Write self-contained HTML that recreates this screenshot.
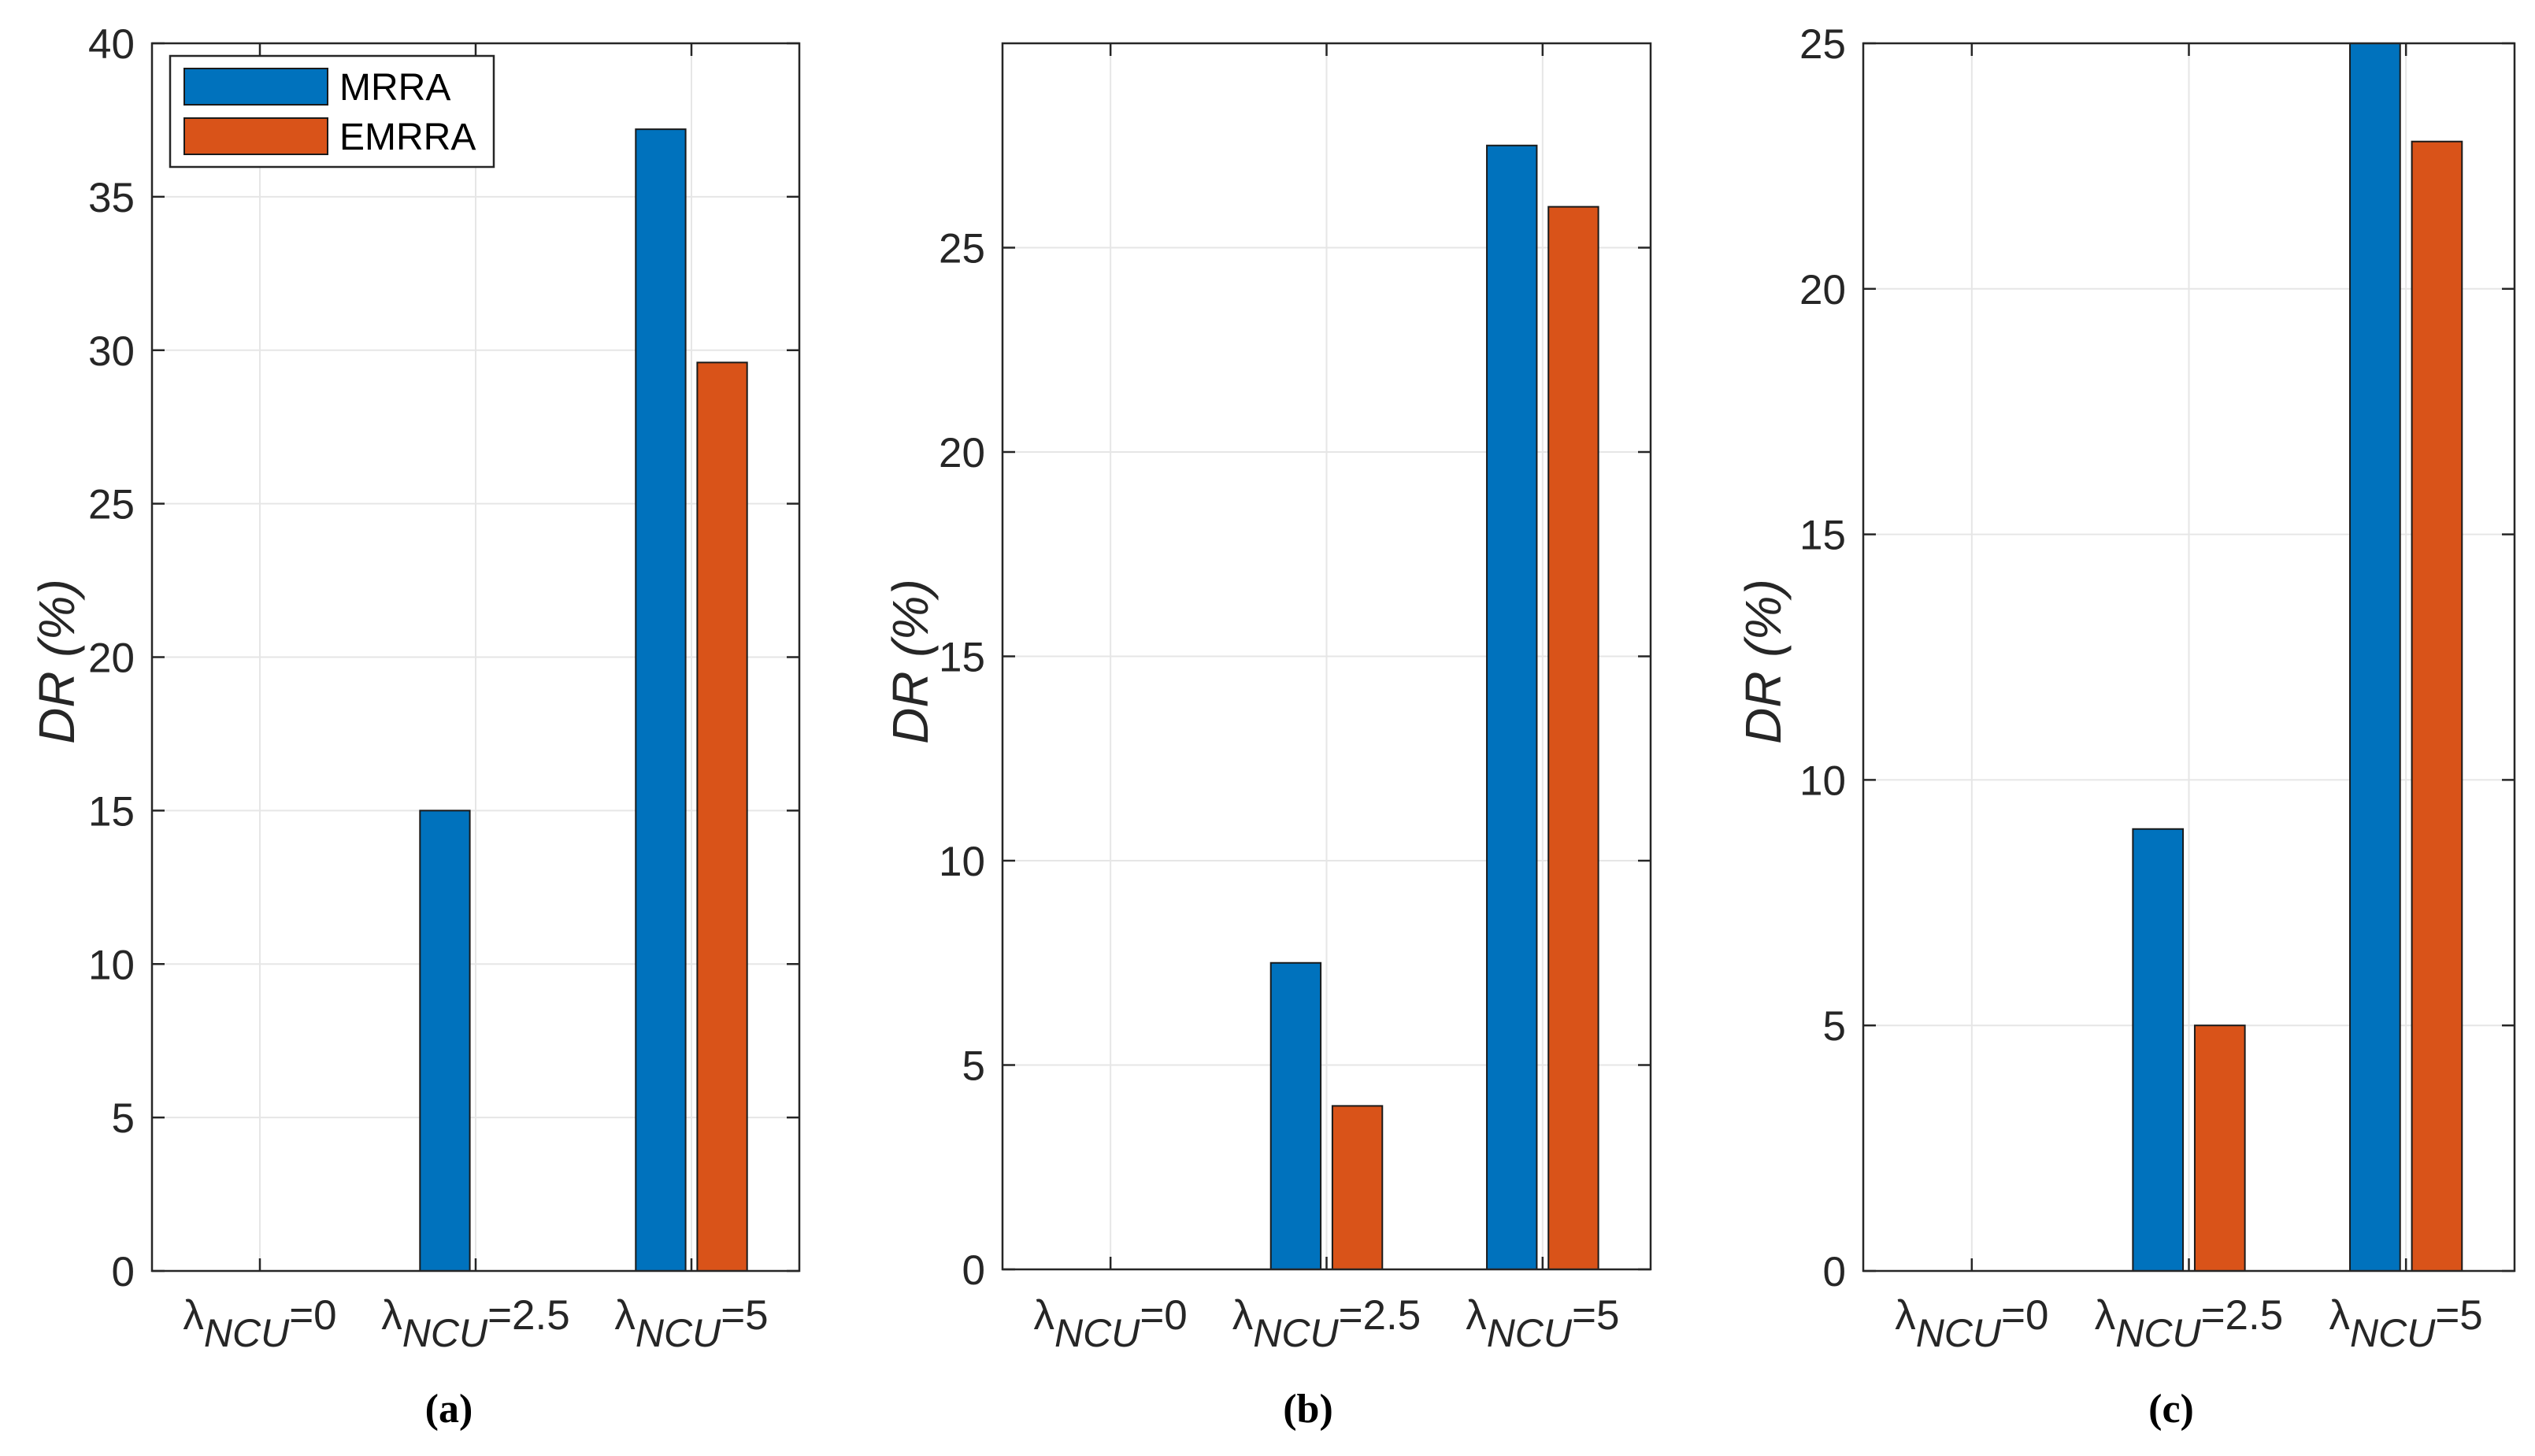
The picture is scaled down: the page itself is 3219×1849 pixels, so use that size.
<!DOCTYPE html>
<html><head><meta charset="utf-8"><style>
html,body{margin:0;padding:0;background:#fff;}
svg{display:block;}
text{font-family:"Liberation Sans",sans-serif;fill:#262626;}
</style></head><body>
<svg id="fig" width="3219" height="1849" viewBox="0 0 3219 1849" xmlns="http://www.w3.org/2000/svg"></svg>
<script>
const categories = ["0", "2.5", "5"];
const seriesNames = ["MRRA", "EMRRA"];
const mrraA = [0, 15, 37.2];
const emrraA = [0, 0, 29.6];
const mrraB = [0, 7.5, 27.5];
const emrraB = [0, 4, 26];
const mrraC = [0, 9, 25];
const emrraC = [0, 5, 23];
const ticksA = [0, 5, 10, 15, 20, 25, 30, 35, 40];
const ticksB = [0, 5, 10, 15, 20, 25];
const ticksC = [0, 5, 10, 15, 20, 25];
const yMaxA = 40, yMaxB = 30, yMaxC = 25;
const captions = ["(a)", "(b)", "(c)"];

const NS = "http://www.w3.org/2000/svg";
const svg = document.getElementById("fig");
const colors = ["#0072BD", "#D95319"];
function mk(tag, attrs, parent) {
  const e = document.createElementNS(NS, tag);
  for (const k in attrs) e.setAttribute(k, attrs[k]);
  (parent || svg).appendChild(e);
  return e;
}
const panels = [
  {L:193, R:1015, T:55, B:1614, ymax:yMaxA, ticks:ticksA, s:[mrraA, emrraA], yl:72, cap:570, legend:true},
  {L:1273, R:2096, T:55, B:1612, ymax:yMaxB, ticks:ticksB, s:[mrraB, emrraB], yl:1156, cap:1661, legend:false},
  {L:2366, R:3193, T:55, B:1614, ymax:yMaxC, ticks:ticksC, s:[mrraC, emrraC], yl:2239, cap:2757, legend:false}
];
panels.forEach((p, pi) => {
  const g = mk("g", {});
  
  
  const W = p.R - p.L;
  const yS = v => p.B - (v / p.ymax) * (p.B - p.T);
  const xS = i => p.L + W * (i + 0.5) / categories.length;
  p.ticks.forEach(t => {
    const y = yS(t);
    const gl = mk("line", {x1:p.L, x2:p.R, y1:y, y2:y, stroke:"#e6e6e6", "stroke-width":2}, g);
    
    
  });
  categories.forEach((c, i) => {
    const x = xS(i);
    const gl = mk("line", {x1:x, x2:x, y1:p.T, y2:p.B, stroke:"#e6e6e6", "stroke-width":2}, g);
    
    
  });
  const bw = W * 0.077, gap = W * 0.018;
  p.s.forEach((ser, si) => {
    ser.forEach((v, i) => {
      const cx = xS(i);
      const x0 = si === 0 ? cx - gap / 2 - bw : cx + gap / 2;
      const y = yS(v);
      const r = mk("rect", {x:x0, y:y, width:bw, height:Math.max(p.B - y, 0.01), fill:colors[si], stroke:"#1a1a1a", "stroke-width":2}, g);
      
      
    });
  });
  const box = mk("rect", {x:p.L, y:p.T, width:W, height:p.B - p.T, fill:"none", stroke:"#262626", "stroke-width":2.5}, g);
  
  
  p.ticks.forEach(t => {
    const y = yS(t);
    mk("line", {x1:p.L, x2:p.L + 16, y1:y, y2:y, stroke:"#262626", "stroke-width":2.5}, g);
    mk("line", {x1:p.R - 16, x2:p.R, y1:y, y2:y, stroke:"#262626", "stroke-width":2.5}, g);
    const tl = mk("text", {x:p.L - 22, y:y + 19, "text-anchor":"end", "font-size":53}, g);
    tl.textContent = t;
    
    
  });
  categories.forEach((c, i) => {
    const x = xS(i);
    mk("line", {x1:x, x2:x, y1:p.B - 16, y2:p.B, stroke:"#262626", "stroke-width":2.5}, g);
    mk("line", {x1:x, x2:x, y1:p.T, y2:p.T + 16, stroke:"#262626", "stroke-width":2.5}, g);
    const xl = mk("text", {x:x, y:1688, "text-anchor":"middle", "font-size":53}, g);
    
    
    const l1 = mk("tspan", {}, xl); l1.textContent = "λ";
    const l2 = mk("tspan", {dy:22, "font-style":"italic", "font-size":50}, xl); l2.textContent = "NCU";
    const l3 = mk("tspan", {dy:-22}, xl); l3.textContent = "=" + c;
  });
  const yl = mk("text", {x:p.yl, y:840, "text-anchor":"middle", "font-size":64, "font-style":"italic", transform:"rotate(-90 " + p.yl + " 840)", dy:"22"}, g);
  yl.textContent = "DR (%)";
  
  
  const cp = mk("text", {x:p.cap, y:1806, "text-anchor":"middle", "font-size":52, "font-weight":"bold", style:"font-family:'Liberation Serif',serif;fill:#000"}, g);
  cp.textContent = captions[pi];
  
  
  if (p.legend) {
    const lg = mk("g", {}, g);
    
    
    mk("rect", {x:216, y:71, width:411, height:141, fill:"#fff", stroke:"#262626", "stroke-width":2.5}, lg);
    seriesNames.forEach((n, si) => {
      const y0 = si === 0 ? 87 : 150;
      const sw = mk("rect", {x:234, y:y0, width:182, height:46, fill:colors[si], stroke:"#1a1a1a", "stroke-width":2}, lg);
      
      
      const t = mk("text", {x:431, y:y0 + 40, "font-size":48, style:"fill:#000"}, lg);
      t.textContent = n;
      
      
    });
  }
});
</script>
</body></html>
